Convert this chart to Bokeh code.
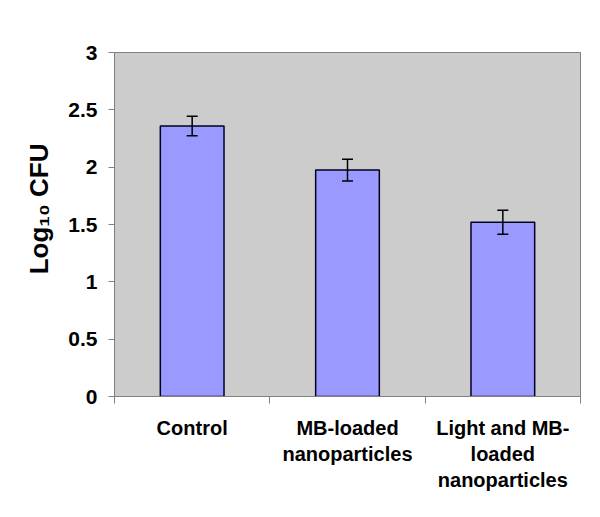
from bokeh.plotting import figure
from bokeh.models import (ColumnDataSource, FixedTicker, NumeralTickFormatter,
                          Range1d, Whisker, TeeHead, Title)
from bokeh.embed import file_html
from bokeh.resources import INLINE

# data
categories = ["Control", "MB-loaded\nnanoparticles", "Light and MB-\nloaded\nnanoparticles"]
values = [2.36, 1.975, 1.52]
errors = [0.085, 0.095, 0.105]
y_ticks = [0, 0.5, 1, 1.5, 2, 2.5, 3]
y_title = "Log\u2081\u2080 CFU"

xpos = [i + 0.5 for i in range(len(categories))]
src = ColumnDataSource(dict(
    x=xpos, top=values,
    upper=[v + e for v, e in zip(values, errors)],
    lower=[v - e for v, e in zip(values, errors)],
))

FONT = "Liberation Sans"

p = figure(width=584, height=501, output_backend="svg", toolbar_location=None,
           x_range=Range1d(0, len(categories)), y_range=Range1d(0, 3))
p.min_border_left = 114
p.min_border_right = 4
p.min_border_top = 52
p.min_border_bottom = 105
p.background_fill_color = "#cccccc"
p.border_fill_color = "white"
p.outline_line_color = "#808080"
p.outline_line_width = 1
p.xgrid.visible = False
p.ygrid.visible = False

p.vbar(x="x", top="top", width=0.41, bottom=0, source=src,
       fill_color="#9999ff", line_color="#000022", line_width=1.5)

w = Whisker(source=src, base="x", upper="upper", lower="lower",
            line_color="black", line_width=1.5, level="overlay",
            upper_head=TeeHead(size=11, line_color="black", line_width=1.5),
            lower_head=TeeHead(size=11, line_color="black", line_width=1.5))
p.add_layout(w)

# y axis
ya = p.yaxis[0]
ya.ticker = FixedTicker(ticks=y_ticks)
ya.formatter = NumeralTickFormatter(format="0.[0]")
ya.axis_line_color = "#808080"
ya.major_tick_line_color = "#808080"
ya.major_tick_out = 6
ya.major_tick_in = 0
ya.minor_tick_line_color = None
ya.major_label_text_font = FONT
ya.major_label_text_font_style = "bold"
ya.major_label_text_font_size = "21px"
ya.major_label_text_color = "black"
ya.major_label_standoff = 11

# y-axis title, a little above the frame centre as in the original
p.add_layout(Title(text=y_title, align="right", offset=91, standoff=23,
                   text_font=FONT, text_font_style="bold",
                   text_font_size="26px", text_color="black"), "left")

# x axis: labels at centers, ticks at category boundaries
xa = p.xaxis[0]
xa.ticker = FixedTicker(ticks=xpos, minor_ticks=list(range(len(categories) + 1)))
xa.major_label_overrides = {x: c for x, c in zip(xpos, categories)}
xa.axis_line_color = "#808080"
xa.major_tick_line_color = None
xa.major_tick_out = 0
xa.major_tick_in = 0
xa.minor_tick_line_color = "#808080"
xa.minor_tick_out = 7
xa.minor_tick_in = 0
xa.major_label_text_font = FONT
xa.major_label_text_font_style = "bold"
xa.major_label_text_font_size = "20px"
xa.major_label_text_color = "black"
xa.major_label_standoff = 13
xa.major_label_text_line_height = 1.2

open("out.html", "w").write(file_html(p, INLINE))
